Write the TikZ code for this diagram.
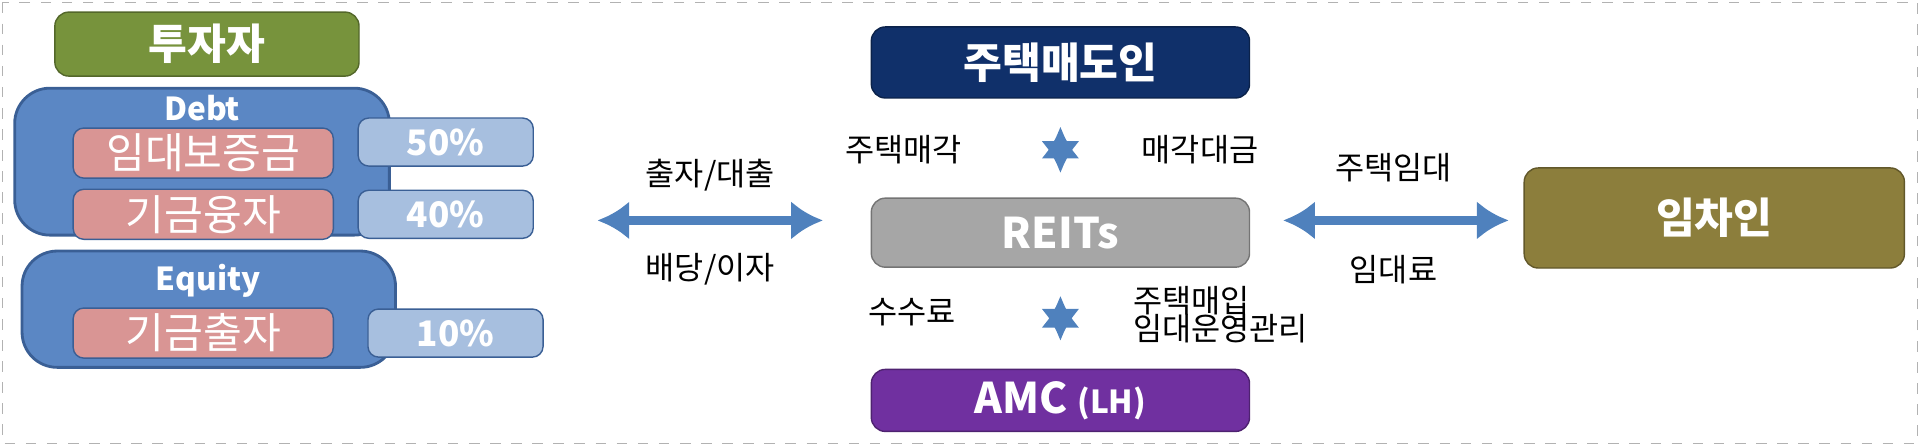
\documentclass[tikz,border=0pt]{standalone}
\usepackage{fontspec}
\setmainfont{Noto Sans CJK KR}
\usetikzlibrary{arrows.meta,positioning}
\definecolor{invgreen}{HTML}{77933C}
\definecolor{debtblue}{HTML}{5B87C4}
\definecolor{debtline}{HTML}{3A5F95}
\definecolor{pinkbox}{HTML}{D99594}
\definecolor{ratebox}{HTML}{A7BFDF}
\definecolor{sellnavy}{HTML}{10306A}
\definecolor{reitgray}{HTML}{A6A6A6}
\definecolor{amcpurple}{HTML}{7030A0}
\definecolor{tenolive}{HTML}{8C7E3C}
\definecolor{arrowblue}{HTML}{4F81BD}
\tikzset{
  box/.style={rounded corners=4pt,draw=#1!70!black,fill=#1,text=white,font=\bfseries\large,inner sep=0pt},
  item/.style={rounded corners=3pt,draw=debtline,fill=pinkbox,text=white,font=\large,minimum width=2.6cm,minimum height=0.5cm,inner sep=0pt},
  rate/.style={rounded corners=3pt,draw=debtline,fill=ratebox,text=white,font=\bfseries,minimum width=1.75cm,minimum height=0.48cm,inner sep=0pt},
  group/.style={rounded corners=10pt,draw=debtline,fill=debtblue,line width=0.8pt},
  flow/.style={{Latex[length=9pt,width=11pt]}-{Latex[length=9pt,width=11pt]},draw=arrowblue,line width=2.6pt},
  lbl/.style={font=\small,inner sep=1pt}
}
\begin{document}
\begin{tikzpicture}[x=0.012245cm,y=-0.012245cm]
\useasboundingbox (0,0) rectangle (1568,364);
\draw[gray!60,dashed] (2,2) rectangle (1566,362);
% investors
\node[box=invgreen,minimum width=3.04cm,minimum height=0.64cm] (investor) at (169,36) {투자자};
\draw[group] (12,72) rectangle (318,192);
\node[text=white,font=\bfseries\small] (debt) at (165,88) {Debt};
\draw[group] (18,205) rectangle (323,300);
\node[text=white,font=\bfseries\small] (equity) at (170,229) {Equity};
\node[item] (deposit) at (166,125) {임대보증금};
\node[item] (loan) at (166,175) {기금융자};
\node[item] (fund) at (166,272) {기금출자};
\node[rate] (r50) at (364,116) {50\%};
\node[rate] (r40) at (364,175) {40\%};
\node[rate] (r10) at (372,272) {10\%};
% centre
\node[box=sellnavy,minimum width=3.78cm,minimum height=0.71cm] (seller) at (866,51) {주택매도인};
\node[box=reitgray,minimum width=3.78cm,minimum height=0.69cm] (reits) at (866,190) {REITs};
\node[box=amcpurple,minimum width=3.78cm,minimum height=0.62cm] (amc) at (866,327) {AMC {\small (LH)}};
\node[box=tenolive,minimum width=3.8cm,minimum height=1.0cm] (tenant) at (1400,178) {임차인};
% connectors
\coordinate (ileft) at (488,180);
\coordinate (iright) at (672,180);
\draw[flow] (ileft) -- (iright);
\draw[flow] ([yshift=-8]seller.south) -- ([yshift=7]reits.north);
\draw[flow] ([yshift=-8]reits.south) -- ([yshift=8]amc.north);
\coordinate (tleft) at (1048,180);
\coordinate (tright) at (1232,180);
\draw[flow] (tleft) -- (tright);
% labels
\node[lbl] (l1) at (580,143) {출자/대출};
\node[lbl] (l2) at (580,220) {배당/이자};
\node[lbl] (l3) at (738,122) {주택매각};
\node[lbl] (l4) at (980,122) {매각대금};
\node[lbl] (l5) at (745,255) {수수료};
\node[lbl,align=left,anchor=west] (l6) at (922,257) {주택매입\\[-3pt]임대운영관리};
\node[lbl] (l7) at (1138,137) {주택임대};
\node[lbl] (l8) at (1138,220) {임대료};
\end{tikzpicture}
\end{document}
